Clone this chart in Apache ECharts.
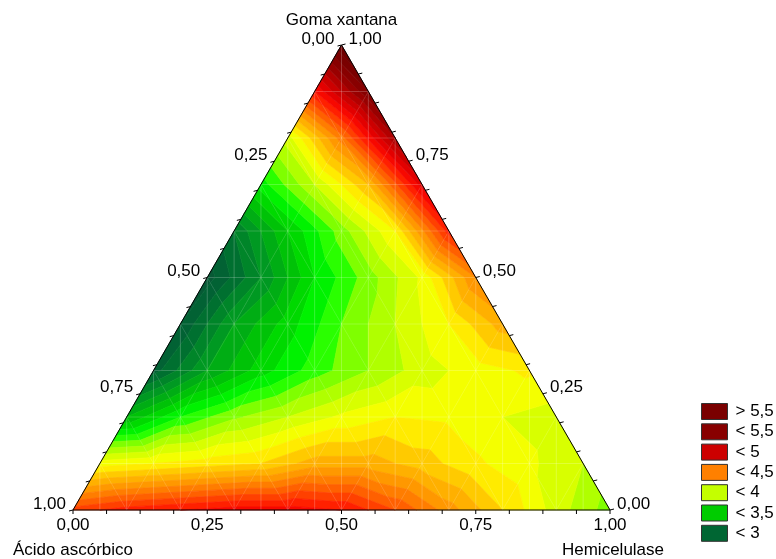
<!DOCTYPE html>
<html>
<head>
<meta charset="utf-8">
<script src="https://cdn.jsdelivr.net/npm/echarts@6/dist/echarts.min.js"></script>
<style>
  html, body { margin: 0; background: #fff; }
  #chart { width: 776px; height: 559px; }
</style>
</head>
<body>
<div id="chart"></div>
<script>
// response on a 0.1 mixture grid.
// one row per Goma xantana level, values along Hemicelulase = 0 .. 1-G
var zG00 = [4.85, 4.95, 5.0, 5.05, 5.05, 5.0, 4.8, 4.55, 4.3, 4.05, 3.85];
var zG01 = [4.15, 4.2, 4.25, 4.3, 4.45, 4.45, 4.35, 4.22, 4.12, 4.0];
var zG02 = [3.4, 3.7, 3.88, 4.0, 4.12, 4.2, 4.18, 4.1, 4.05];
var zG03 = [2.95, 3.3, 3.55, 3.75, 3.9, 4.05, 4.15, 4.22];
var zG04 = [2.9, 3.3, 3.55, 3.8, 4.0, 4.2, 4.45];
var zG05 = [2.85, 3.2, 3.6, 3.85, 4.12, 4.6];
var zG06 = [3.1, 3.5, 3.85, 4.2, 4.95];
var zG07 = [3.65, 4.0, 4.4, 5.15];
var zG08 = [4.05, 4.65, 5.4];
var zG09 = [5.0, 5.6];
var zG10 = [5.8];

var tickValues = [0, 0.25, 0.5, 0.75, 1];
var tickLabels = ['0,00', '0,25', '0,50', '0,75', '1,00'];
var axisTitles = ['Goma xantana', 'Ácido ascórbico', 'Hemicelulase'];

var legendLabels = ['> 5,5', '< 5,5', '< 5', '< 4,5', '< 4', '< 3,5', '< 3'];
var legendColors = ['#7a0000', '#880000', '#cc0000', '#ff8000', '#c4ff00', '#00cc00', '#006633'];

// colour ramp used for the fine contour bands
var rampValues = [2.8, 3.0, 3.25, 3.5, 3.7, 3.85, 4.0, 4.1, 4.2, 4.3, 4.45, 4.6, 4.75, 4.9, 5.0, 5.1, 5.25, 5.45, 5.6, 5.8];
var rampColors = ['#0a5535', '#006633', '#009922', '#00cc00', '#00ff00', '#7fff00', '#c8ff00', '#e8ff00',
                  '#ffff00', '#ffd700', '#ffb000', '#ff8c00', '#ff6000', '#ff3000', '#ff1000', '#ee0000',
                  '#cc0000', '#990000', '#800000', '#6a0000'];

var rows = [zG00, zG01, zG02, zG03, zG04, zG05, zG06, zG07, zG08, zG09, zG10];
var FONT = '17px "Liberation Sans", Arial, sans-serif';

function hex2rgb(h) {
    return [parseInt(h.substr(1, 2), 16), parseInt(h.substr(3, 2), 16), parseInt(h.substr(5, 2), 16)];
}
function colorAt(v) {
    if (v <= rampValues[0]) return rampColors[0];
    for (var k = 1; k < rampValues.length; k++) {
        if (v <= rampValues[k]) {
            var t = (v - rampValues[k - 1]) / (rampValues[k] - rampValues[k - 1]);
            var a = hex2rgb(rampColors[k - 1]), b = hex2rgb(rampColors[k]);
            return 'rgb(' + a.map(function (c, n) { return Math.round(c + t * (b[n] - c)); }).join(',') + ')';
        }
    }
    return rampColors[rampColors.length - 1];
}

// ternary (H, G) -> plane coords used by the value axes
function node(i, j) {
    var g = i / 10, h = j / 10;
    return { x: h + g / 2, y: g, v: rows[i][j] };
}

var tris = [];
for (var i = 0; i < 10; i++) {
    for (var j = 0; j < 10 - i; j++) {
        tris.push([node(i, j), node(i, j + 1), node(i + 1, j)]);
        if (j < 9 - i) tris.push([node(i, j + 1), node(i + 1, j + 1), node(i + 1, j)]);
    }
}

function clip(poly, lvl, above) {
    var out = [];
    for (var k = 0; k < poly.length; k++) {
        var a = poly[k], b = poly[(k + 1) % poly.length];
        var ina = above ? a.v >= lvl : a.v < lvl;
        var inb = above ? b.v >= lvl : b.v < lvl;
        if (ina) out.push(a);
        if (ina !== inb) {
            var t = (lvl - a.v) / (b.v - a.v);
            out.push({ x: a.x + t * (b.x - a.x), y: a.y + t * (b.y - a.y), v: lvl });
        }
    }
    return out;
}

var pieces = [];
tris.forEach(function (tri) {
    var vs = tri.map(function (p) { return p.v; });
    var mn = Math.min.apply(null, vs), mx = Math.max.apply(null, vs);
    for (var b = 26; b <= 60; b++) {
        var lo = b === 26 ? -1e9 : b / 10;
        var hi = b === 60 ? 1e9 : (b + 1) / 10;
        if (hi <= mn || lo > mx) continue;
        var poly = clip(clip(tri, lo, true), hi, false);
        if (poly.length < 3) continue;
        var mid = b === 26 ? 2.6 : (b === 60 ? 6.0 : (b + 0.5) / 10);
        pieces.push({ pts: poly.map(function (p) { return [p.x, p.y]; }), color: colorAt(mid) });
    }
});

// faint mesh lines over the surface: [from, to, opacity]
var meshLines = [];
for (var k = 1; k < 20; k++) {
    var c = k / 20;
    meshLines.push([[c, 0], [c, c <= 0.5 ? 2 * c : 2 * (1 - c)], 0.28]);
}
for (k = 1; k < 10; k++) {
    var g = k / 10;
    meshLines.push([[g / 2, g], [1 - g / 2, g], 0.24]);
    meshLines.push([[g, 0], [g + (1 - g) / 2, 1 - g], 0.14]);
    meshLines.push([[g, 0], [g / 2, g], 0.14]);
}

var chart = echarts.init(document.getElementById('chart'));

chart.setOption({
    animation: false,
    grid: { left: 73, top: 45, width: 537, height: 465 },
    xAxis: { type: 'value', min: 0, max: 1, show: false },
    yAxis: { type: 'value', min: 0, max: 1, show: false },
    series: [
        {
            type: 'custom',
            silent: true,
            clip: false,
            z: 1,
            data: pieces.map(function (p, n) { return [p.pts[0][0], p.pts[0][1], n]; }),
            renderItem: function (params, api) {
                var p = pieces[params.dataIndex];
                return {
                    type: 'polygon',
                    shape: { points: p.pts.map(function (q) { return api.coord(q); }) },
                    style: { fill: p.color, stroke: p.color, lineWidth: 0.7 }
                };
            }
        },
        {
            type: 'custom',
            silent: true,
            clip: false,
            z: 2,
            data: meshLines.map(function (l, n) { return [l[0][0], l[0][1], n]; }),
            renderItem: function (params, api) {
                var l = meshLines[params.dataIndex];
                var a = api.coord(l[0]), b = api.coord(l[1]);
                return {
                    type: 'line',
                    shape: { x1: a[0], y1: a[1], x2: b[0], y2: b[1] },
                    style: { stroke: 'rgba(255,255,255,' + l[2] + ')', lineWidth: 0.8 }
                };
            }
        },
        {
            type: 'custom',
            silent: true,
            clip: false,
            z: 3,
            data: [[0, 0]],
            renderItem: function (params, api) {
                function P(h, g) { return api.coord([h + g / 2, g]); }
                function text(s, x, y, align) {
                    return { type: 'text', x: x, y: y,
                        style: { text: s, fill: '#000', font: FONT, align: align, verticalAlign: 'middle' } };
                }
                var kids = [];
                var A = P(0, 0), B = P(1, 0), C = P(0, 1);
                kids.push({ type: 'polygon', shape: { points: [A, B, C] },
                    style: { fill: 'none', stroke: '#000', lineWidth: 1 } });
                for (var k = 0; k <= 16; k++) {
                    var f = k / 16, p;
                    p = P(f, 0);
                    kids.push({ type: 'line', shape: { x1: p[0], y1: p[1], x2: p[0], y2: p[1] + 4 }, style: { stroke: '#000', lineWidth: 1 } });
                    p = P(0, f);
                    kids.push({ type: 'line', shape: { x1: p[0], y1: p[1], x2: p[0] - 4, y2: p[1] + 1 }, style: { stroke: '#000', lineWidth: 1 } });
                    p = P(1 - f, f);
                    kids.push({ type: 'line', shape: { x1: p[0], y1: p[1], x2: p[0] + 4, y2: p[1] - 1 }, style: { stroke: '#000', lineWidth: 1 } });
                }
                tickValues.forEach(function (t, n) {
                    var p = P(t, 0);
                    kids.push(text(tickLabels[n], p[0], p[1] + 15, 'center'));
                    p = P(0, 1 - t);            // Ácido ascórbico on the left side
                    kids.push(text(tickLabels[n], p[0] - 7, p[1] - 6, 'right'));
                    p = P(1 - t, t);            // Goma xantana on the right side
                    kids.push(text(tickLabels[n], p[0] + 7, p[1] - 6, 'left'));
                });
                kids.push(text(axisTitles[0], C[0], C[1] - 25, 'center'));
                kids.push(text(axisTitles[1], A[0], A[1] + 40, 'center'));
                kids.push(text(axisTitles[2], B[0] + 3, B[1] + 40, 'center'));
                return { type: 'group', children: kids };
            }
        }
    ],
    graphic: legendLabels.map(function (s, n) {
        return {
            type: 'group',
            left: 701,
            top: 403 + n * 20.3,
            children: [
                { type: 'rect', shape: { x: 0, y: 0, width: 26, height: 16 },
                  style: { fill: legendColors[n], stroke: '#333', lineWidth: 1 } },
                { type: 'text', x: 34, y: 8,
                  style: { text: s, fill: '#000', font: FONT, align: 'left', verticalAlign: 'middle' } }
            ]
        };
    })
});
</script>
</body>
</html>
